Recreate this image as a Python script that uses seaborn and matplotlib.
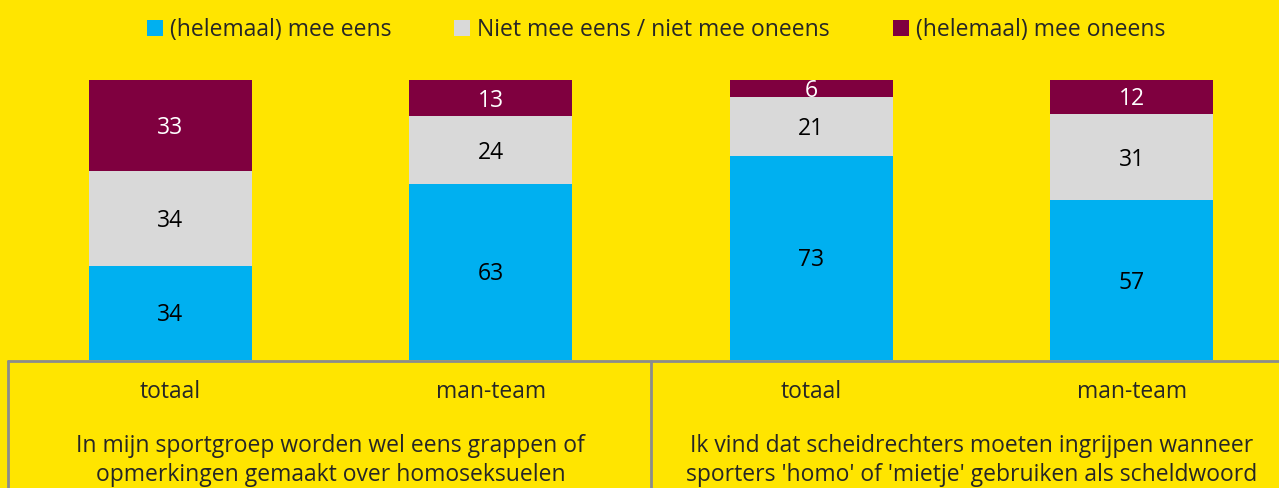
import numpy as np
import pandas as pd
import matplotlib
matplotlib.use("Agg")
import matplotlib.pyplot as plt
from matplotlib.patches import Patch
from matplotlib.lines import Line2D
import seaborn as sns

# data
bar_labels = ['totaal', 'man-team', 'totaal', 'man-team']
agree = [34, 63, 73, 57]
neutral = [34, 24, 21, 31]
disagree = [33, 13, 6, 12]
series_names = ['(helemaal) mee eens', 'Niet mee eens / niet mee oneens', '(helemaal) mee oneens']
group_titles = ['In mijn sportgroep worden wel eens grappen of\nopmerkingen gemaakt over homoseksuelen',
                "Ik vind dat scheidrechters moeten ingrijpen wanneer\nsporters 'homo' of 'mietje' gebruiken als scheldwoord"]

YELLOW = '#FFE500'
BLUE = '#00B0F0'
GREY = '#D9D9D9'
MAROON = '#7F003F'
LINE = '#8C8C8C'
FS = 16.5

sns.set_theme(style='white')
plt.rcParams['font.family'] = ['Open Sans', 'DejaVu Sans']

df = pd.DataFrame({'pos': range(4), 'agree': agree, 'neutral': neutral, 'disagree': disagree})
total = df[['agree', 'neutral', 'disagree']].sum(axis=1)
# 100% stacked: normalise each bar
df['c1'] = df['agree'] / total * 100
df['c2'] = df['c1'] + df['neutral'] / total * 100
df['c3'] = df['c2'] + df['disagree'] / total * 100
df['x'] = df['pos'].astype(str)

W, H = 1279, 488
fig = plt.figure(figsize=(W / 100, H / 100), dpi=100, facecolor=YELLOW)
ax = fig.add_axes([10 / W, (H - 360) / H, 1282 / W, 280 / H])
ax.set_facecolor(YELLOW)

for col, color in [('c3', MAROON), ('c2', GREY), ('c1', BLUE)]:
    sns.barplot(data=df, x='x', y=col, color=color, width=0.51, linewidth=0,
                saturation=1, ax=ax, errorbar=None)

ax.set_xlim(-0.5, 3.5)
ax.set_ylim(0, 100)
ax.set_xticks([])
ax.set_yticks([])
ax.set_xlabel('')
ax.set_ylabel('')
for s in ax.spines.values():
    s.set_visible(False)

# value labels (slightly below centre, like the original)
off = 0.9
for i, r in df.iterrows():
    ax.text(i, r['c1'] / 2 - off, str(r['agree']), ha='center', va='center', fontsize=FS, color='black')
    ax.text(i, (r['c1'] + r['c2']) / 2 - off, str(r['neutral']), ha='center', va='center', fontsize=FS, color='black')
    ax.text(i, (r['c2'] + r['c3']) / 2 - off, str(r['disagree']), ha='center', va='center', fontsize=FS, color='white')

# category table below the plot
fig.add_artist(Line2D([8 / W, 1], [(H - 361) / H] * 2, color=LINE, lw=2))
fig.add_artist(Line2D([8 / W, 8 / W], [0, (H - 361) / H], color=LINE, lw=2))
fig.add_artist(Line2D([651 / W, 651 / W], [0, (H - 361) / H], color=LINE, lw=2))
for i, lab in enumerate(bar_labels):
    ax.text(i, -11.6, lab, ha='center', va='center', fontsize=FS, clip_on=False)
for g, title in enumerate(group_titles):
    ax.text(2 * g + 0.5, -35.8, title, ha='center', va='center', fontsize=FS,
            linespacing=1.3, clip_on=False)

handles = [Patch(facecolor=c, edgecolor='none') for c in (BLUE, GREY, MAROON)]
fig.legend(handles, series_names, loc='center', bbox_to_anchor=(0.513, 1 - 30 / H), ncol=3,
           frameon=False, fontsize=FS, handlelength=0.7, handleheight=0.7,
           handletextpad=0.3, columnspacing=2.75)

fig.savefig('out.png', dpi=100, facecolor=YELLOW)
